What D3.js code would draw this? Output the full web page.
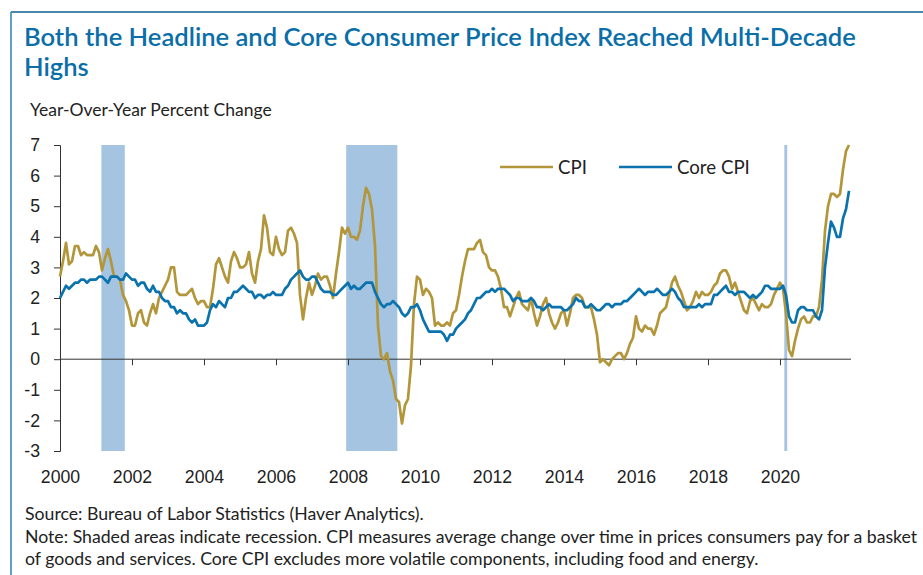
<!DOCTYPE html>
<html>
<head>
<meta charset="utf-8">
<script src="https://cdn.jsdelivr.net/npm/d3@7"></script>
<style>
  body { margin: 0; background: #fff; }
  svg { display: block; font-family: "Source Sans Pro", Lato, sans-serif; }
</style>
</head>
<body>
<div id="chart"></div>
<script>
// monthly year-over-year % change, Jan 2000 - Dec 2021
const startYear = 2000;
const cpi = [
  2.7, 3.2, 3.8, 3.1, 3.2, 3.7, 3.7, 3.4, 3.5, 3.4, 3.4, 3.4,
  3.7, 3.5, 2.9, 3.3, 3.6, 3.2, 2.7, 2.7, 2.6, 2.1, 1.9, 1.6,
  1.1, 1.1, 1.5, 1.6, 1.2, 1.1, 1.5, 1.8, 1.5, 2.0, 2.2, 2.4,
  2.6, 3.0, 3.0, 2.2, 2.1, 2.1, 2.1, 2.2, 2.3, 2.0, 1.8, 1.9,
  1.9, 1.7, 1.7, 2.3, 3.1, 3.3, 3.0, 2.7, 2.5, 3.2, 3.5, 3.3,
  3.0, 3.0, 3.1, 3.5, 2.8, 2.5, 3.2, 3.6, 4.7, 4.3, 3.5, 3.4,
  4.0, 3.6, 3.4, 3.5, 4.2, 4.3, 4.1, 3.8, 2.1, 1.3, 2.0, 2.5,
  2.1, 2.4, 2.8, 2.6, 2.7, 2.7, 2.4, 2.0, 2.8, 3.5, 4.3, 4.1,
  4.3, 4.0, 4.0, 3.9, 4.2, 5.0, 5.6, 5.4, 4.9, 3.7, 1.1, 0.1,
  0.0, 0.2, -0.4, -0.7, -1.3, -1.4, -2.1, -1.5, -1.3, -0.2, 1.8, 2.7,
  2.6, 2.1, 2.3, 2.2, 2.0, 1.1, 1.2, 1.1, 1.1, 1.2, 1.1, 1.5,
  1.6, 2.1, 2.7, 3.2, 3.6, 3.6, 3.6, 3.8, 3.9, 3.5, 3.4, 3.0,
  2.9, 2.9, 2.7, 2.3, 1.7, 1.7, 1.4, 1.7, 2.0, 2.2, 1.8, 1.7,
  1.6, 2.0, 1.5, 1.1, 1.4, 1.8, 2.0, 1.5, 1.2, 1.0, 1.2, 1.5,
  1.6, 1.1, 1.5, 2.0, 2.1, 2.1, 2.0, 1.7, 1.7, 1.7, 1.3, 0.8,
  -0.1, 0.0, -0.1, -0.2, 0.0, 0.1, 0.2, 0.2, 0.0, 0.2, 0.5, 0.7,
  1.4, 1.0, 0.9, 1.1, 1.0, 1.0, 0.8, 1.1, 1.5, 1.6, 1.7, 2.1,
  2.5, 2.7, 2.4, 2.2, 1.9, 1.6, 1.7, 1.9, 2.2, 2.0, 2.2, 2.1,
  2.1, 2.2, 2.4, 2.5, 2.8, 2.9, 2.9, 2.7, 2.3, 2.5, 2.2, 1.9,
  1.6, 1.5, 1.9, 2.0, 1.8, 1.6, 1.8, 1.7, 1.7, 1.8, 2.1, 2.3,
  2.5, 2.3, 1.5, 0.3, 0.1, 0.6, 1.0, 1.3, 1.4, 1.2, 1.2, 1.4,
  1.4, 1.7, 2.6, 4.2, 5.0, 5.4, 5.4, 5.3, 5.4, 6.2, 6.8, 7.0
];
const coreCpi = [
  2.0, 2.2, 2.4, 2.3, 2.4, 2.5, 2.5, 2.6, 2.6, 2.5, 2.6, 2.6,
  2.6, 2.7, 2.7, 2.6, 2.5, 2.7, 2.7, 2.7, 2.6, 2.6, 2.8, 2.7,
  2.6, 2.6, 2.4, 2.5, 2.5, 2.3, 2.2, 2.4, 2.2, 2.2, 2.0, 1.9,
  1.9, 1.7, 1.7, 1.5, 1.6, 1.5, 1.5, 1.3, 1.2, 1.3, 1.1, 1.1,
  1.1, 1.2, 1.6, 1.8, 1.7, 1.9, 1.8, 1.7, 2.0, 2.0, 2.2, 2.2,
  2.3, 2.4, 2.3, 2.2, 2.2, 2.0, 2.1, 2.1, 2.0, 2.1, 2.1, 2.2,
  2.1, 2.1, 2.1, 2.3, 2.4, 2.6, 2.7, 2.8, 2.9, 2.7, 2.6, 2.6,
  2.7, 2.7, 2.5, 2.3, 2.2, 2.2, 2.2, 2.1, 2.1, 2.2, 2.3, 2.4,
  2.5, 2.3, 2.4, 2.3, 2.3, 2.4, 2.5, 2.5, 2.5, 2.2, 2.0, 1.8,
  1.7, 1.8, 1.8, 1.9, 1.8, 1.7, 1.5, 1.4, 1.5, 1.7, 1.7, 1.8,
  1.6, 1.3, 1.1, 0.9, 0.9, 0.9, 0.9, 0.9, 0.8, 0.6, 0.8, 0.8,
  1.0, 1.1, 1.2, 1.3, 1.5, 1.6, 1.8, 2.0, 2.0, 2.1, 2.2, 2.2,
  2.3, 2.2, 2.3, 2.3, 2.3, 2.2, 2.1, 1.9, 2.0, 2.0, 1.9, 1.9,
  1.9, 2.0, 1.9, 1.7, 1.7, 1.6, 1.7, 1.8, 1.7, 1.7, 1.7, 1.7,
  1.6, 1.6, 1.7, 1.8, 2.0, 1.9, 1.9, 1.7, 1.7, 1.8, 1.7, 1.6,
  1.6, 1.7, 1.8, 1.8, 1.7, 1.8, 1.8, 1.8, 1.9, 1.9, 2.0, 2.1,
  2.2, 2.3, 2.2, 2.1, 2.2, 2.2, 2.2, 2.3, 2.2, 2.1, 2.1, 2.2,
  2.3, 2.2, 2.0, 1.9, 1.7, 1.7, 1.7, 1.7, 1.7, 1.8, 1.7, 1.8,
  1.8, 1.8, 2.1, 2.1, 2.2, 2.3, 2.4, 2.2, 2.2, 2.1, 2.2, 2.2,
  2.2, 2.1, 2.0, 2.1, 2.0, 2.1, 2.2, 2.4, 2.4, 2.3, 2.3, 2.3,
  2.3, 2.4, 2.1, 1.4, 1.2, 1.2, 1.6, 1.7, 1.7, 1.6, 1.6, 1.6,
  1.4, 1.3, 1.6, 3.0, 3.8, 4.5, 4.3, 4.0, 4.0, 4.6, 4.9, 5.5
];
// recession periods, decimal years
const recessions = [[2001.15, 2001.8], [2007.95, 2009.37], [2020.12, 2020.2]];
const yTicks = [-3, -2, -1, 0, 1, 2, 3, 4, 5, 6, 7];
const xTicks = [2000, 2002, 2004, 2006, 2008, 2010, 2012, 2014, 2016, 2018, 2020];
const seriesNames = ['CPI', 'Core CPI'];

const width = 923, height = 575;
const gold = '#b3963a', blue = '#0a72ad', shade = '#a4c4e2';
const ink = '#222';

const svg = d3.select('#chart').append('svg')
  .attr('width', width)
  .attr('height', height);

// frame
svg.append('line').attr('x1', 11).attr('x2', width).attr('y1', 12).attr('y2', 12)
  .attr('stroke', '#4a87ab').attr('stroke-width', 2);
svg.append('line').attr('x1', 11).attr('x2', 11).attr('y1', 12).attr('y2', height)
  .attr('stroke', '#2b80b6').attr('stroke-width', 1.5);

function fit(sel, w) {
  const fs = parseFloat(sel.attr('font-size'));
  sel.attr('font-size', fs * w / sel.node().getComputedTextLength());
  return parseFloat(sel.attr('font-size'));
}

// title
const t1 = svg.append('text').attr('x', 24).attr('y', 46)
  .attr('font-size', 24).attr('font-weight', 600).attr('fill', '#0a6ea8')
  .text('Both the Headline and Core Consumer Price Index Reached Multi-Decade');
const titleSize = fit(t1, 832);
svg.append('text').attr('x', 24).attr('y', 76)
  .attr('font-size', titleSize).attr('font-weight', 600).attr('fill', '#0a6ea8')
  .text('Highs');

const yl = svg.append('text').attr('x', 30).attr('y', 116)
  .attr('font-size', 17).attr('fill', ink)
  .text('Year-Over-Year Percent Change');
fit(yl, 242);

// notes
const n1 = svg.append('text').attr('x', 25).attr('y', 543)
  .attr('font-size', 17).attr('fill', ink)
  .text('Note: Shaded areas indicate recession. CPI measures average change over time in prices consumers pay for a basket');
const bodySize = fit(n1, 893);
svg.append('text').attr('x', 25).attr('y', 520)
  .attr('font-size', bodySize).attr('fill', ink)
  .text('Source: Bureau of Labor Statistics (Haver Analytics).');
svg.append('text').attr('x', 25).attr('y', 565)
  .attr('font-size', bodySize).attr('fill', ink)
  .text('of goods and services. Core CPI excludes more volatile components, including food and energy.');

// scales
const x = d3.scaleLinear().domain([2000, 2022]).range([60, 852]);
const y = d3.scaleLinear().domain([-3, 7]).range([451, 145]);

// recession shading
svg.append('g').selectAll('rect')
  .data(recessions)
  .join('rect')
    .attr('x', d => x(d[0]))
    .attr('width', d => x(d[1]) - x(d[0]))
    .attr('y', y(7))
    .attr('height', y(-3) - y(7))
    .attr('fill', shade);

// y axis
svg.append('g')
  .attr('transform', `translate(${x(2000)},0)`)
  .call(d3.axisLeft(y).tickValues(yTicks).tickSize(6).tickPadding(14).tickFormat(d => String(d)))
  .call(g => g.selectAll('.domain, line').attr('stroke', '#333'))
  .call(g => g.selectAll('text').attr('font-size', bodySize).attr('fill', ink).attr('font-family', null));

// zero line with ticks
svg.append('g')
  .attr('transform', `translate(0,${y(0)})`)
  .call(d3.axisBottom(x).tickValues(xTicks).tickSize(6).tickFormat(''))
  .call(g => g.select('.domain').attr('d', `M${x(2000)},0H${x(2022) - 1}`))
  .call(g => g.selectAll('.domain, line').attr('stroke', '#333'));

// year labels at the bottom
svg.append('g')
  .attr('transform', 'translate(0,470)')
  .call(d3.axisBottom(x).tickValues(xTicks).tickSize(0).tickPadding(0).tickFormat(d => String(d)))
  .call(g => g.select('.domain').remove())
  .call(g => g.selectAll('text').attr('font-size', bodySize).attr('fill', ink).attr('font-family', null));

// lines
const pts = arr => arr.map((v, i) => [startYear + i / 12, v]);
const line = d3.line().x(d => x(d[0])).y(d => y(d[1]));
[[cpi, gold], [coreCpi, blue]].forEach(([arr, col]) => {
  svg.append('path')
    .datum(pts(arr))
    .attr('fill', 'none')
    .attr('stroke', col)
    .attr('stroke-width', 2.7)
    .attr('stroke-linejoin', 'round')
    .attr('d', line);
});

// legend
const legend = [[500, gold], [619, blue]];
legend.forEach(([lx, col], i) => {
  svg.append('line').attr('x1', lx).attr('x2', lx + 53).attr('y1', 167).attr('y2', 167)
    .attr('stroke', col).attr('stroke-width', 2.7);
  svg.append('text').attr('x', lx + 58).attr('y', 167).attr('dy', '0.35em')
    .attr('font-size', bodySize + 1).attr('fill', ink)
    .text(seriesNames[i]);
});
</script>
</body>
</html>
